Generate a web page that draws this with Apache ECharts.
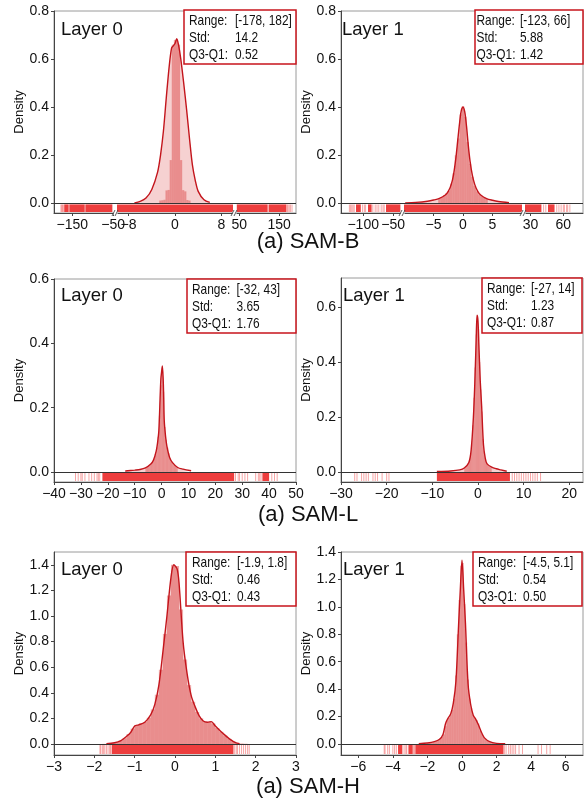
<!DOCTYPE html>
<html>
<head>
<meta charset="utf-8">
<script src="https://cdn.jsdelivr.net/npm/echarts@6/dist/echarts.min.js"></script>
<style>
html, body { margin: 0; padding: 0; background: #fff; }
#main { width: 586px; height: 801px; }
</style>
</head>
<body>
<div id="main"></div>
<script>
"use strict";

// ---------- data ----------
var subtitles = ["(a) SAM-B", "(a) SAM-L", "(a) SAM-H"];
var layerNames = ["Layer 0", "Layer 1", "Layer 0", "Layer 1", "Layer 0", "Layer 1"];
var statRange = ["[-178, 182]", "[-123, 66]", "[-32, 43]", "[-27, 14]", "[-1.9, 1.8]", "[-4.5, 5.1]"];
var statStd = ["14.2", "5.88", "3.65", "1.23", "0.46", "0.54"];
var statIqr = ["0.52", "1.42", "1.76", "0.87", "0.43", "0.50"];

// tick labels
var yTicksB = [0, 0.2, 0.4, 0.6, 0.8];
var yTicksL = [0, 0.2, 0.4, 0.6];
var yTicksH = [0, 0.2, 0.4, 0.6, 0.8, 1.0, 1.2, 1.4];
var b0TicksL = [-150, -50], b0TicksM = [-8, 0, 8], b0TicksR = [50, 150];
var b1TicksL = [-100, -50], b1TicksM = [-5, 0, 5], b1TicksR = [30, 60];
var a0Ticks = [-40, -30, -20, -10, 0, 10, 20, 30, 40, 50];
var a1Ticks = [-30, -20, -10, 0, 10, 20];
var h0Ticks = [-3, -2, -1, 0, 1, 2, 3];
var h1Ticks = [-6, -4, -2, 0, 2, 4, 6];

// SAM-B layer 0
var b0KdeX = [-7, -6, -5, -4, -3, -2.5, -2, -1.5, -1, -0.6, -0.3, 0, 0.3, 0.6, 1, 1.5, 2, 2.5, 3, 3.5, 4, 5, 6];
var b0KdeY = [0.002, 0.008, 0.022, 0.058, 0.13, 0.2, 0.3, 0.44, 0.57, 0.645, 0.655, 0.665, 0.685, 0.66, 0.6, 0.5, 0.39, 0.27, 0.16, 0.095, 0.05, 0.015, 0.004];
var b0HistStart = -2.72, b0HistWidth = 0.36;
var b0Hist = [0.012, 0.013, 0.015, 0.054, 0.056, 0.18, 0.66, 0.68, 0.68, 0.66, 0.18, 0.055, 0.05, 0.014, 0.012];
var b0RugDense = [[-170, -160], [-157, -120], [-117, -52], [-10, 10], [44, 120], [124, 168]];
var b0RugTicks = [-178, -176, -174, -172, -159, -158, -119, -118, 121, 122, 170, 172, 175, 178, 182];

// SAM-B layer 1
var b1KdeX = [-9.8, -8, -6, -5, -4, -3, -2.5, -2, -1.6, -1.2, -0.9, -0.6, -0.3, 0, 0.3, 0.6, 0.9, 1.2, 1.6, 2, 2.5, 3, 4, 5, 6, 7.8];
var b1KdeY = [0.002, 0.004, 0.009, 0.014, 0.021, 0.035, 0.05, 0.078, 0.12, 0.19, 0.26, 0.33, 0.385, 0.4, 0.38, 0.32, 0.24, 0.175, 0.115, 0.078, 0.05, 0.035, 0.02, 0.013, 0.008, 0.003];
var b1HistStart = -4.2, b1HistWidth = 0.4;
var b1Hist = [0.02, 0.026, 0.034, 0.042, 0.052, 0.082, 0.125, 0.2, 0.27, 0.37, 0.405, 0.36, 0.255, 0.165, 0.11, 0.072, 0.05, 0.037, 0.03, 0.023, 0.018];
var b1RugDense = [[-112, -104], [-92, -86], [-62, -38], [-10, 10], [25, 40], [46, 52]];
var b1RugTicks = [-123, -121, -119, -117, -115, -101, -98, -96, -84, -80, -77, -74, -70, -67, -65, 42, 44, 54, 56, 58, 60, 61, 63, 64, 66];

// SAM-L layer 0
var a0KdeX = [-13.5, -10, -8, -6, -4, -3, -2, -1.5, -1, -0.5, -0.25, 0, 0.3, 0.6, 0.8, 1, 1.5, 2, 3, 4, 6, 8, 11];
var a0KdeY = [0.003, 0.006, 0.008, 0.013, 0.025, 0.037, 0.065, 0.09, 0.13, 0.24, 0.29, 0.31, 0.33, 0.29, 0.23, 0.16, 0.11, 0.08, 0.045, 0.03, 0.014, 0.009, 0.004];
var a0HistStart = -6, a0HistWidth = 0.5;
var a0Hist = [0.014, 0.016, 0.019, 0.022, 0.027, 0.033, 0.041, 0.056, 0.076, 0.11, 0.175, 0.27, 0.325, 0.25, 0.14, 0.1, 0.076, 0.058, 0.042, 0.033, 0.027, 0.022, 0.018, 0.015];
var a0RugDense = [[-22, 27], [37.5, 40]];
var a0RugTicks = [-32, -31, -30, -29.5, -28.5, -27, -26, -25, -24, -23.5, -23, 27.5, 28.5, 29, 30, 31, 32, 35, 36, 36.5, 37, 41, 42, 43];

// SAM-L layer 1
var a1KdeX = [-9, -6, -4, -3, -2, -1.5, -1, -0.7, -0.4, -0.2, 0, 0.2, 0.5, 0.8, 1.2, 1.6, 2, 3, 4, 5, 6.3];
var a1KdeY = [0.002, 0.004, 0.008, 0.015, 0.035, 0.08, 0.2, 0.32, 0.48, 0.57, 0.55, 0.46, 0.33, 0.24, 0.1, 0.05, 0.03, 0.018, 0.012, 0.008, 0.003];
var a1HistStart = -3, a1HistWidth = 0.25;
var a1Hist = [0.015, 0.019, 0.024, 0.03, 0.042, 0.065, 0.1, 0.17, 0.27, 0.38, 0.5, 0.57, 0.52, 0.4, 0.3, 0.22, 0.12, 0.075, 0.048, 0.033, 0.026, 0.022, 0.019, 0.017];
var a1RugDense = [[-9, 7]];
var a1RugTicks = [-27, -26.5, -25.5, -25, -24.5, -24, -23, -22.5, -22, -21, -20, -19.5, 7.5, 8, 8.5, 9, 9.5, 10, 10.5, 11, 11.5, 12, 12.5, 13, 13.7];

// SAM-H layer 0
var h0KdeX = [-1.7, -1.5, -1.35, -1.2, -1.1, -1.0, -0.9, -0.75, -0.6, -0.5, -0.4, -0.3, -0.2, -0.1, -0.03, 0.05, 0.1, 0.2, 0.3, 0.4, 0.5, 0.6, 0.7, 0.8, 0.9, 1.0, 1.1, 1.2, 1.35, 1.5, 1.6];
var h0KdeY = [0.002, 0.01, 0.025, 0.06, 0.09, 0.14, 0.15, 0.17, 0.23, 0.31, 0.46, 0.72, 1.0, 1.3, 1.4, 1.37, 1.26, 0.8, 0.55, 0.38, 0.29, 0.22, 0.18, 0.17, 0.175, 0.14, 0.11, 0.08, 0.04, 0.01, 0.003];
var h0HistStart = -1.8, h0HistWidth = 0.1;
var h0Hist = [0.001, 0.004, 0.008, 0.015, 0.027, 0.045, 0.078, 0.12, 0.148, 0.158, 0.172, 0.205, 0.27, 0.385, 0.58, 0.86, 1.16, 1.4, 1.39, 1.05, 0.66, 0.46, 0.33, 0.25, 0.2, 0.175, 0.172, 0.16, 0.125, 0.095, 0.066, 0.04, 0.02, 0.008, 0.004, 0.002];
var h0RugDense = [[-1.57, 1.45]];
var h0RugTicks = [-1.86, -1.84, -1.8, -1.77, -1.74, -1.7, -1.66, -1.62, -1.6, 1.48, 1.52, 1.55, 1.6, 1.65, 1.7, 1.75, 1.8, 1.84];

// SAM-H layer 1
var h1KdeX = [-2.5, -2, -1.6, -1.3, -1.1, -0.95, -0.8, -0.65, -0.5, -0.35, -0.2, -0.1, 0, 0.1, 0.2, 0.35, 0.5, 0.65, 0.8, 0.95, 1.15, 1.3, 1.6, 2, 2.5];
var h1KdeY = [0.002, 0.007, 0.017, 0.035, 0.07, 0.15, 0.19, 0.22, 0.3, 0.46, 0.86, 1.12, 1.34, 1.12, 0.88, 0.44, 0.29, 0.21, 0.18, 0.14, 0.078, 0.045, 0.017, 0.005, 0.002];
var h1HistStart = -2, h1HistWidth = 0.1;
var h1Hist = [0.006, 0.008, 0.011, 0.014, 0.018, 0.024, 0.031, 0.04, 0.052, 0.07, 0.13, 0.17, 0.19, 0.215, 0.25, 0.33, 0.5, 0.8, 1.05, 1.3, 1.32, 1.02, 0.74, 0.47, 0.33, 0.26, 0.21, 0.19, 0.175, 0.15, 0.1, 0.075, 0.05, 0.038, 0.028, 0.02, 0.015, 0.011, 0.008, 0.006];
var h1RugDense = [[-3.7, -3.45], [-3.1, -2.85], [-2.7, 2.4]];
var h1RugTicks = [-4.5, -4.45, -4.3, -4.2, -4.0, -3.9, -3.8, -3.35, -3.25, -3.2, -2.8, -2.75, 2.45, 2.55, 2.7, 2.8, 2.9, 3.0, 3.1, 3.3, 3.5, 4.4, 4.6, 4.9, 5.1];

// ---------- layout ----------
var FONT = '"Liberation Sans", Arial, sans-serif';
var AXIS = "#444";
var KDE_LINE = "#c3151c";

var panels = [
  { left: 54, top: 11, width: 242, height: 202, ymin: -0.04, ymax: 0.8, yTicks: yTicksB,
    segs: [{ l: 54, r: 114, min: -195, max: -48, ticks: b0TicksL }, { l: 117, r: 233, min: -10, max: 10, ticks: b0TicksM }, { l: 236, r: 296, min: 42, max: 192, ticks: b0TicksR }],
    kx: b0KdeX, ky: b0KdeY, hs: b0HistStart, hw: b0HistWidth, h: b0Hist, rd: b0RugDense, rt: b0RugTicks,
    box: [184, 10, 112, 54], lx: 5, vx: 51, layerPos: [61, 30] },
  { left: 341, top: 11, width: 242, height: 202, ymin: -0.04, ymax: 0.8, yTicks: yTicksB,
    segs: [{ l: 341, r: 401, min: -137, max: -37, ticks: b1TicksL }, { l: 404, r: 522, min: -10, max: 10, ticks: b1TicksM }, { l: 525, r: 583, min: 25, max: 78, ticks: b1TicksR }],
    kx: b1KdeX, ky: b1KdeY, hs: b1HistStart, hw: b1HistWidth, h: b1Hist, rd: b1RugDense, rt: b1RugTicks,
    box: [475, 10, 108, 54], lx: 1.5, vx: 45, layerPos: [342, 30] },
  { left: 54, top: 279, width: 242, height: 203, ymin: -0.031, ymax: 0.6, yTicks: yTicksL,
    xmin: -40, xmax: 50, xTicks: a0Ticks,
    kx: a0KdeX, ky: a0KdeY, hs: a0HistStart, hw: a0HistWidth, h: a0Hist, rd: a0RugDense, rt: a0RugTicks,
    box: [187, 279, 109, 54], lx: 5, vx: 49.5, layerPos: [61, 296] },
  { left: 341, top: 278, width: 242, height: 204, ymin: -0.036, ymax: 0.705, yTicks: yTicksL,
    xmin: -30, xmax: 23, xTicks: a1Ticks,
    kx: a1KdeX, ky: a1KdeY, hs: a1HistStart, hw: a1HistWidth, h: a1Hist, rd: a1RugDense, rt: a1RugTicks,
    box: [482, 278, 100, 55], lx: 5, vx: 49, layerPos: [343, 296] },
  { left: 54, top: 552, width: 242, height: 203, ymin: -0.086, ymax: 1.5, yTicks: yTicksH,
    xmin: -3, xmax: 3, xTicks: h0Ticks,
    kx: h0KdeX, ky: h0KdeY, hs: h0HistStart, hw: h0HistWidth, h: h0Hist, rd: h0RugDense, rt: h0RugTicks,
    box: [186, 552, 110, 54], lx: 6, vx: 51, layerPos: [61, 570] },
  { left: 341, top: 552, width: 242, height: 203, ymin: -0.08, ymax: 1.4, yTicks: yTicksH,
    xmin: -7, xmax: 7, xTicks: h1Ticks,
    kx: h1KdeX, ky: h1KdeY, hs: h1HistStart, hw: h1HistWidth, h: h1Hist, rd: h1RugDense, rt: h1RugTicks,
    box: [473, 552, 109, 54], lx: 5, vx: 50, layerPos: [343, 570] }
];
var subtitleY = [242, 515, 787];

// ---------- builders ----------
var grids = [], xAxes = [], yAxes = [], series = [], graphics = [];

function minus(s) { return String(s).replace("-", "\u2212"); }

function addGrid(left, top, width, height, border) {
  grids.push({ left: left, top: top, width: width, height: height, show: border,
    borderColor: "#9a9a9a", borderWidth: 1, backgroundColor: "transparent",
    containLabel: false, outerBoundsMode: "none" });
  return grids.length - 1;
}

function addX(gi, min, max, ticks) {
  var shown = !!ticks;
  xAxes.push({ type: "value", gridIndex: gi, min: min, max: max, show: shown,
    axisLine: { show: shown, onZero: false, lineStyle: { color: AXIS, width: 1 } },
    axisTick: { show: shown, length: 3, customValues: ticks || [], lineStyle: { color: AXIS } },
    axisLabel: { show: shown, customValues: ticks || [], margin: 5, fontSize: 14, fontFamily: FONT, color: "#111",
      formatter: function (v) { return minus(v); } },
    splitLine: { show: false } });
  return xAxes.length - 1;
}

function addY(gi, p, shown) {
  yAxes.push({ type: "value", gridIndex: gi, min: p.ymin, max: p.ymax, show: shown,
    name: shown ? "Density" : "", nameLocation: "middle", nameGap: 26,
    nameTextStyle: { fontSize: 13, fontFamily: FONT, color: "#111" },
    axisLine: { show: shown, onZero: false, lineStyle: { color: AXIS, width: 1 } },
    axisTick: { show: shown, length: 3, customValues: p.yTicks, lineStyle: { color: AXIS } },
    axisLabel: { show: shown, customValues: p.yTicks, margin: 5, fontSize: 14, fontFamily: FONT, color: "#111",
      formatter: function (v) { return v.toFixed(1); } },
    splitLine: { show: false } });
  return yAxes.length - 1;
}

function rugSeries(xi, yi, dense, ticks) {
  var render = function (params, api) {
    var cs = params.coordSys;
    var a = api.coord([api.value(0), 0]);
    var top = a[1] + 1, bottom = cs.y + cs.height - 1;
    var b = api.coord([api.value(1), 0]);
    var isBand = api.value(1) !== api.value(0);
    return { type: "rect",
      shape: isBand ? { x: a[0], y: top, width: b[0] - a[0], height: bottom - top }
                    : { x: a[0] - 0.5, y: top, width: 1, height: bottom - top },
      style: { fill: isBand ? "rgba(235,40,40,0.9)" : "rgba(235,40,40,0.42)" } };
  };
  var data = dense.map(function (d) { return [d[0], d[1]]; })
    .concat(ticks.map(function (v) { return [v, v]; }));
  series.push({ type: "custom", xAxisIndex: xi, yAxisIndex: yi, clip: true, silent: true, z: 2,
    data: data, encode: { x: [0, 1] }, renderItem: render });
}

function histSeries(xi, yi, start, width, heights) {
  var data = heights.map(function (h, i) { return [start + i * width, start + (i + 1) * width, h]; });
  series.push({ type: "custom", xAxisIndex: xi, yAxisIndex: yi, clip: true, silent: true, z: 3,
    data: data, encode: { x: [0, 1], y: 2 },
    renderItem: function (params, api) {
      var p0 = api.coord([api.value(0), api.value(2)]);
      var p1 = api.coord([api.value(1), 0]);
      return { type: "rect", shape: { x: p0[0], y: p0[1], width: p1[0] - p0[0], height: p1[1] - p0[1] },
        style: { fill: "rgba(214,40,40,0.4)" } };
    } });
}

function kdeSeries(xi, yi, xs, ys) {
  series.push({ type: "line", xAxisIndex: xi, yAxisIndex: yi, z: 4, silent: true,
    data: xs.map(function (x, i) { return [x, ys[i]]; }),
    smooth: 0.3, symbol: "none",
    lineStyle: { color: KDE_LINE, width: 1.4 },
    areaStyle: { color: "rgba(214,40,40,0.3)" } });
}

function zeroLine(xi, yi) {
  series.push({ type: "line", xAxisIndex: xi, yAxisIndex: yi, z: 5, silent: true, data: [],
    markLine: { silent: true, symbol: "none", animation: false, label: { show: false },
      lineStyle: { color: "#333", width: 1, type: "solid" }, data: [{ yAxis: 0 }] } });
}

function smallText(x, y, s) {
  return { type: "text", x: x, y: y, scaleX: 0.82, z: 101, silent: true,
    style: { text: s, x: 0, y: 0, font: '14.5px "Liberation Sans", Arial, sans-serif', fill: "#111",
      textAlign: "left", align: "left", textVerticalAlign: "middle", verticalAlign: "middle" } };
}

panels.forEach(function (p, i) {
  var frame = addGrid(p.left, p.top, p.width, p.height, true);
  var fy = addY(frame, p, true);
  if (p.segs) {
    var fx = addX(frame, 0, 1, null);
    zeroLine(fx, fy);
    p.segs.forEach(function (s, k) {
      var gi = addGrid(s.l, p.top, s.r - s.l, p.height, false);
      var xi = addX(gi, s.min, s.max, s.ticks);
      var yi = addY(gi, p, false);
      rugSeries(xi, yi, p.rd, p.rt);
      if (k === 1) {
        histSeries(xi, yi, p.hs, p.hw, p.h);
        kdeSeries(xi, yi, p.kx, p.ky);
      }
    });
    // axis break marks
    var bottom = p.top + p.height;
    for (var k = 0; k < p.segs.length - 1; k++) {
      var bx = (p.segs[k].r + p.segs[k + 1].l) / 2;
      graphics.push({ type: "rect", shape: { x: bx - 2, y: bottom - 2, width: 4, height: 4 }, style: { fill: "#fff" }, z: 50, silent: true });
      [-2.5, 0.5].forEach(function (d) {
        graphics.push({ type: "line", shape: { x1: bx + d - 1, y1: bottom + 3, x2: bx + d + 2, y2: bottom - 3 },
          style: { stroke: "#333", lineWidth: 0.8 }, z: 51, silent: true });
      });
    }
  } else {
    var xi = addX(frame, p.xmin, p.xmax, p.xTicks);
    rugSeries(xi, fy, p.rd, p.rt);
    histSeries(xi, fy, p.hs, p.hw, p.h);
    kdeSeries(xi, fy, p.kx, p.ky);
    zeroLine(xi, fy);
  }

  // layer label
  graphics.push({ type: "text", x: p.layerPos[0], y: p.layerPos[1], z: 100, silent: true,
    style: { text: layerNames[i], x: 0, y: 0, font: '18.5px "Liberation Sans", Arial, sans-serif', fill: "#111",
      textAlign: "left", align: "left", textVerticalAlign: "middle", verticalAlign: "middle" } });

  // stats box
  var b = p.box;
  graphics.push({ type: "rect", shape: { x: b[0], y: b[1], width: b[2], height: b[3] },
    style: { fill: "#fff", stroke: "#c8141c", lineWidth: 1.5 }, z: 100, silent: true });
  var rows = [["Range:", statRange[i]], ["Std:", statStd[i]], ["Q3-Q1:", statIqr[i]]];
  rows.forEach(function (r, k) {
    var y = b[1] + 11 + k * 17;
    graphics.push(smallText(b[0] + p.lx, y, r[0]));
    graphics.push(smallText(b[0] + p.vx, y, r[1]));
  });
});

subtitles.forEach(function (s, r) {
  graphics.push({ type: "text", x: 308, y: subtitleY[r], z: 100, silent: true,
    style: { text: s, x: 0, y: 0, font: '22px "Liberation Sans", Arial, sans-serif', fill: "#111",
      textAlign: "center", align: "center", textVerticalAlign: "middle", verticalAlign: "middle" } });
});

var chart = echarts.init(document.getElementById("main"), null, { renderer: "canvas", width: 586, height: 801 });
chart.setOption({
  animation: false,
  backgroundColor: "#fff",
  grid: grids,
  xAxis: xAxes,
  yAxis: yAxes,
  series: series,
  graphic: { elements: graphics }
});
</script>
</body>
</html>
